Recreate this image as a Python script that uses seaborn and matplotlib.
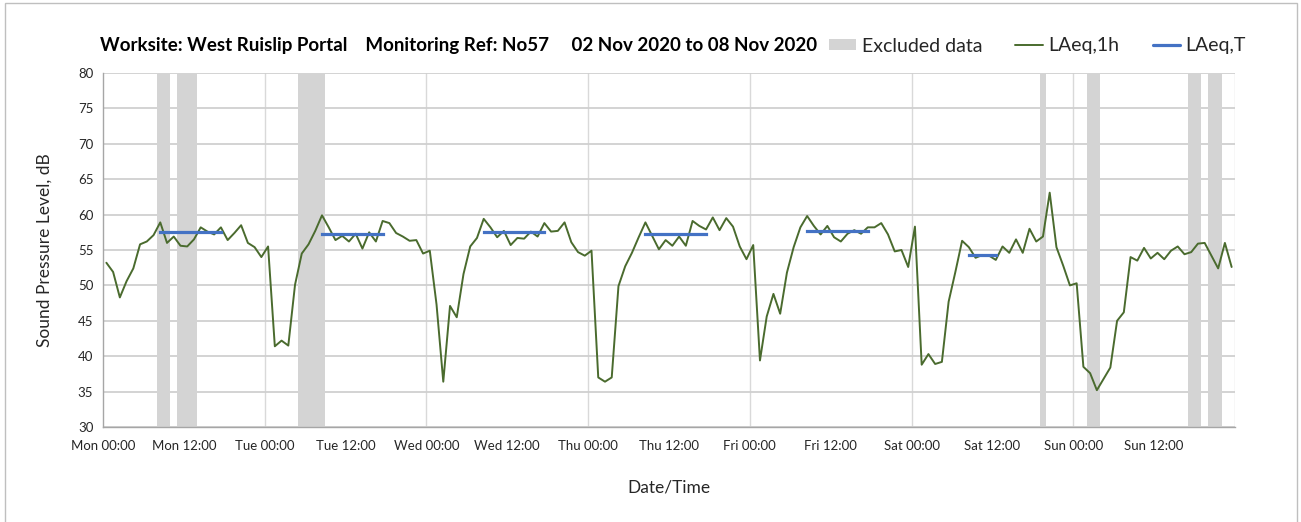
import numpy as np
import pandas as pd
import matplotlib
matplotlib.use("Agg")
import matplotlib.pyplot as plt
from matplotlib.patches import Patch, Rectangle
from matplotlib.lines import Line2D
import seaborn as sns

# ---------------- data ----------------
# hourly LAeq,1h values starting Mon 00:00 (168 hours)
laeq_1h = [
    # Mon
    53.2, 51.9, 48.3, 50.6, 52.4, 55.8, 56.2, 57.1, 58.9, 56.0, 56.9, 55.6,
    55.5, 56.5, 58.2, 57.6, 57.2, 58.2, 56.4, 57.4, 58.5, 56.0, 55.4, 54.0,
    # Tue
    55.5, 41.4, 42.2, 41.5, 50.1, 54.5, 55.8, 57.7, 59.9, 58.2, 56.4, 57.0,
    56.2, 57.3, 55.2, 57.5, 56.2, 59.1, 58.8, 57.4, 56.9, 56.3, 56.4, 54.5,
    # Wed
    54.9, 47.3, 36.4, 47.1, 45.5, 51.6, 55.5, 56.7, 59.4, 58.2, 56.8, 57.7,
    55.7, 56.7, 56.6, 57.6, 56.9, 58.8, 57.6, 57.7, 58.9, 56.1, 54.7, 54.2,
    # Thu
    54.9, 37.0, 36.4, 37.0, 49.9, 52.7, 54.6, 56.8, 58.9, 57.0, 55.1, 56.4,
    55.6, 56.9, 55.6, 59.1, 58.4, 57.9, 59.6, 57.8, 59.5, 58.3, 55.5, 53.7,
    # Fri
    55.7, 39.4, 45.6, 48.8, 46.0, 51.8, 55.4, 58.2, 59.8, 58.4, 57.2, 58.4,
    56.8, 56.2, 57.3, 57.8, 57.3, 58.2, 58.2, 58.8, 57.2, 54.8, 55.0, 52.6,
    # Sat
    58.3, 38.8, 40.3, 38.9, 39.2, 47.7, 51.9, 56.3, 55.4, 53.9, 54.3, 54.2,
    53.6, 55.5, 54.6, 56.5, 54.6, 58.0, 56.2, 56.9, 63.1, 55.4, 52.8, 50.0,
    # Sun
    50.3, 38.5, 37.6, 35.2, 36.8, 38.4, 45.0, 46.2, 54.0, 53.5, 55.3, 53.8,
    54.6, 53.7, 54.9, 55.5, 54.4, 54.7, 55.9, 56.0, 54.2, 52.4, 56.0, 52.6,
]
hours = list(range(168))

# LAeq,T periods (hours from Mon 00:00)
period_start = [8, 32, 56, 80, 104, 128]
period_end = [18, 42, 66, 90, 114, 133]
period_level = [57.5, 57.2, 57.6, 57.25, 57.7, 54.3]

# excluded data periods (hours from Mon 00:00)
excl_start = [8, 11, 29, 139, 146, 161, 164]
excl_end = [10, 14, 33, 140, 148, 163, 166]

tick_hours = list(range(0, 157, 12))
tick_labels = ["Mon 00:00", "Mon 12:00", "Tue 00:00", "Tue 12:00", "Wed 00:00",
               "Wed 12:00", "Thu 00:00", "Thu 12:00", "Fri 00:00", "Fri 12:00",
               "Sat 00:00", "Sat 12:00", "Sun 00:00", "Sun 12:00"]

title = "Worksite: West Ruislip Portal    Monitoring Ref: No57     02 Nov 2020 to 08 Nov 2020"

# ---------------- style ----------------
sns.set_theme(style="white")
plt.rcParams["font.family"] = ["Lato", "DejaVu Sans"]

GREEN = "#4a6b2e"
BLUE = "#4472c4"
EXCL = "#d4d4d4"
TXT = "#262626"

fig = plt.figure(figsize=(13.01, 5.22), dpi=100)
ax = fig.add_axes([103 / 1301, 1 - 427 / 522, (1235 - 103) / 1301, (427 - 73) / 522])

# excluded bands
for s, e in zip(excl_start, excl_end):
    ax.axvspan(s, e, color=EXCL, lw=0, zorder=1)

# gridlines
ax.set_ylim(30, 80)
ax.set_xlim(0, 168)
ax.set_yticks(np.arange(30, 81, 5))
ax.yaxis.grid(True, color="#d0d0d0", lw=1.3, zorder=0)
ax.set_axisbelow(True)
for d in range(24, 169, 24):
    ax.axvline(d, color="#d9d9d9", lw=1.0, zorder=0.5)

# hourly series
df = pd.DataFrame({"x": np.array(hours) + 0.5, "LAeq,1h": laeq_1h})
sns.lineplot(data=df, x="x", y="LAeq,1h", color=GREEN, lw=1.4, ax=ax, zorder=3)

# LAeq,T segments
rows = []
for i, (s, e, v) in enumerate(zip(period_start, period_end, period_level)):
    rows.append({"p": i, "x": s + 0.5, "v": v})
    rows.append({"p": i, "x": e - 0.5, "v": v})
dft = pd.DataFrame(rows)
sns.lineplot(data=dft, x="x", y="v", units="p", estimator=None, color=BLUE,
             lw=2.3, ax=ax, zorder=4, solid_capstyle="projecting")

# axes styling
ax.set_xticks(tick_hours + [168])
ax.set_xticklabels(tick_labels + [""])
for sp in ["top", "right"]:
    ax.spines[sp].set_visible(False)
for sp in ["left", "bottom"]:
    ax.spines[sp].set_color("#a6a6a6")
    ax.spines[sp].set_linewidth(1.0)
ax.tick_params(axis="both", direction="out", length=4, width=1, color="#a6a6a6",
               labelsize=9.5, labelcolor=TXT, pad=3)
ax.tick_params(axis="x", pad=5)
ax.set_xlabel("Date/Time", fontsize=12.5, color=TXT, labelpad=20)
ax.set_ylabel("Sound Pressure Level, dB", fontsize=12.5, color=TXT, labelpad=18)

# title
fig.text(100 / 1301, 1 - 46 / 522, title, fontsize=13.5, fontweight="bold",
         color="black", ha="left", va="center")

# legend
handles = [Patch(facecolor=EXCL, edgecolor="none"),
           Line2D([0], [0], color=GREEN, lw=1.4),
           Line2D([0], [0], color=BLUE, lw=2.3)]
fig.legend(handles, ["Excluded data", "LAeq,1h", "LAeq,T"], ncol=3,
           loc="center right", bbox_to_anchor=(1246 / 1301, 1 - 46 / 522),
           frameon=False, fontsize=14, handlelength=1.4, handleheight=0.5,
           handletextpad=0.3, columnspacing=1.7, labelcolor=TXT,
           borderaxespad=0, borderpad=0)

# figure border
fig.patches.append(Rectangle((5 / 1301, -0.05), (1297 - 5) / 1301, 1.05 - 3 / 522,
                             transform=fig.transFigure, fill=False,
                             edgecolor="#bfbfbf", lw=1.0))

fig.savefig("out.png", dpi=100)
